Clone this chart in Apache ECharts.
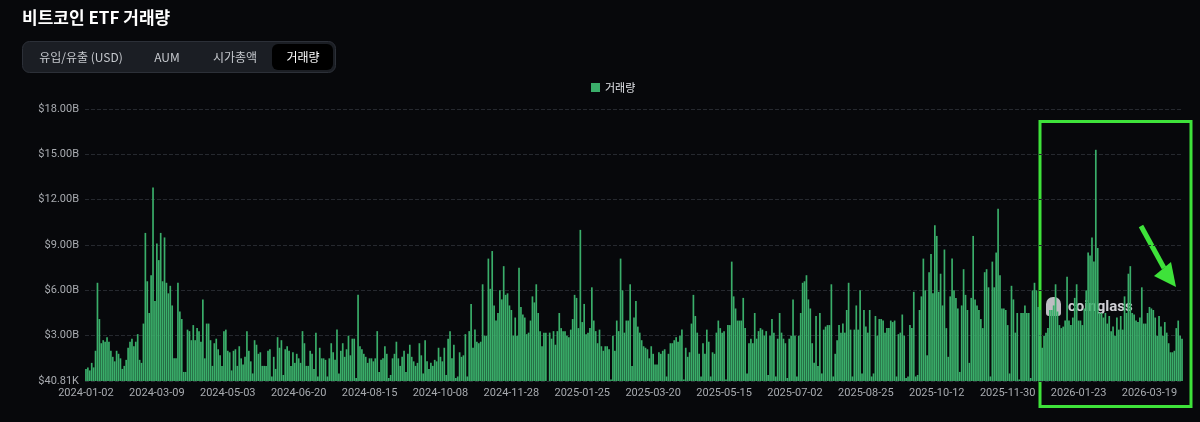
<!DOCTYPE html>
<html>
<head>
<meta charset="utf-8">
<script src="https://cdn.jsdelivr.net/npm/echarts@6/dist/echarts.min.js"></script>
<style>
  html, body { margin: 0; padding: 0; background: #07080b; }
  #chart { width: 1200px; height: 422px; }
</style>
</head>
<body>
<div id="chart"></div>
<script>
// x축 라벨 (37개 카테고리마다 하나)
const tickLabels = [
  '2024-01-02', '2024-03-09', '2024-05-03', '2024-06-20', '2024-08-15', '2024-10-08',
  '2024-11-28', '2025-01-25', '2025-03-20', '2025-05-15', '2025-07-02', '2025-08-25',
  '2025-10-12', '2025-11-30', '2026-01-23', '2026-03-19',
];
const labelStep = 37;

// 일별 거래량 (단위: 십억 달러)
const volB = [
  0.8, 0.9, 0.7, 1.2, 0.9, 2.0, 6.5, 4.1, 2.5, 2.7, 2.6, 2.9, 2.6, 2.0, 1.6, 1.3, 2.0, 1.8, 1.5, 0.8, 1.0, 1.4, 2.2, 2.6, 2.8, 2.3, 2.6, 3.1, 1.4, 1.2, 3.8, 9.8, 6.6, 4.5, 7.0, 12.8, 5.3,
  9.1, 8.0, 9.8, 6.6, 9.5, 6.5, 5.8, 6.3, 5.0, 1.5, 1.5, 6.5, 4.6, 4.1, 0.6, 0.6, 3.4, 3.3, 2.7, 3.7, 2.7, 3.5, 3.3, 2.6, 5.4, 1.5, 3.8, 3.8, 2.7, 1.0, 2.5, 2.8, 2.1, 1.7, 1.0, 3.3, 3.4,
  2.0, 1.9, 0.7, 2.0, 2.1, 1.0, 2.3, 1.5, 1.1, 1.6, 3.3, 2.0, 1.3, 0.5, 2.7, 2.4, 1.8, 1.9, 1.0, 1.0, 1.0, 2.0, 2.1, 0.3, 1.6, 0.8, 2.9, 2.2, 2.7, 0.4, 2.1, 2.3, 2.0, 1.0, 1.9, 1.2, 1.8,
  1.5, 1.2, 3.3, 2.5, 1.0, 1.0, 2.0, 1.8, 0.8, 3.2, 0.3, 2.2, 1.5, 1.5, 1.4, 0.3, 1.5, 2.5, 1.9, 1.4, 3.4, 0.5, 2.0, 2.5, 1.6, 2.1, 3.0, 1.7, 2.8, 2.8, 0.2, 5.7, 2.3, 2.1, 1.8, 1.6, 1.2,
  1.5, 1.5, 1.3, 1.5, 3.3, 0.6, 1.4, 1.5, 2.3, 1.8, 0.2, 0.4, 1.5, 1.8, 2.6, 1.5, 1.0, 1.6, 2.0, 0.6, 1.8, 2.4, 1.6, 1.3, 1.0, 1.2, 2.5, 1.7, 0.5, 2.7, 1.3, 0.8, 1.2, 1.0, 1.4, 1.3, 2.2,
  1.6, 1.3, 2.2, 0.4, 2.8, 3.3, 1.5, 2.4, 0.2, 0.3, 1.9, 1.6, 1.7, 3.1, 0.3, 3.3, 5.1, 2.2, 3.4, 2.6, 2.5, 2.6, 6.4, 3.0, 3.0, 8.1, 6.1, 8.6, 5.0, 4.0, 4.5, 6.0, 5.4, 7.6, 5.7, 5.8, 5.0,
  4.7, 3.0, 4.2, 3.0, 7.5, 4.9, 4.4, 4.2, 3.1, 3.2, 4.0, 5.6, 5.2, 6.4, 4.5, 3.3, 2.3, 3.2, 3.2, 0.00004081, 3.2, 2.8, 3.3, 2.4, 3.3, 4.5, 3.5, 3.3, 3.3, 3.0, 2.9, 3.4, 4.1, 5.7, 5.5, 3.5, 10.0,
  3.9, 5.1, 3.1, 3.2, 3.5, 6.2, 4.0, 3.3, 2.5, 3.4, 2.3, 2.0, 2.3, 2.3, 2.1, 0.1, 3.0, 2.0, 4.0, 3.3, 8.1, 6.0, 3.2, 4.0, 4.0, 6.4, 1.0, 4.2, 5.3, 3.6, 3.2, 2.7, 2.3, 2.2, 2.1, 1.5, 2.3,
  1.8, 1.1, 1.1, 1.9, 1.8, 2.0, 2.1, 0.3, 1.8, 2.5, 2.5, 2.7, 2.9, 2.6, 3.0, 3.4, 0.1, 2.2, 1.6, 1.9, 3.8, 5.7, 4.3, 3.2, 1.8, 0.3, 2.5, 1.8, 3.4, 2.6, 0.3, 1.9, 1.8, 3.2, 4.0, 3.5, 3.2,
  3.3, 0.1, 3.7, 3.7, 7.9, 5.6, 4.8, 4.0, 4.0, 4.0, 5.5, 3.5, 0.5, 2.5, 2.8, 2.5, 4.5, 2.8, 3.3, 3.5, 3.4, 3.0, 3.3, 0.4, 3.0, 4.1, 3.2, 0.3, 2.8, 4.5, 3.2, 2.8, 2.5, 0.2, 2.8, 3.0, 5.4,
  3.0, 0.3, 3.0, 4.5, 6.5, 6.6, 7.0, 5.4, 4.8, 2.5, 1.2, 4.3, 1.0, 4.5, 0.5, 3.4, 3.6, 3.7, 3.7, 6.4, 0.3, 1.8, 2.7, 3.7, 3.2, 3.8, 3.2, 4.7, 6.5, 3.4, 0.3, 3.4, 5.0, 3.4, 6.0, 0.5, 4.7,
  3.6, 3.2, 4.7, 0.3, 0.5, 4.3, 3.0, 4.1, 4.1, 4.0, 3.2, 3.5, 3.5, 4.0, 3.9, 4.0, 0.3, 3.1, 3.2, 4.4, 3.0, 0.2, 0.3, 3.7, 3.5, 5.9, 0.3, 0.4, 4.7, 5.6, 8.1, 6.0, 1.7, 7.2, 8.4, 5.8, 10.3,
  9.6, 5.9, 7.1, 5.0, 8.7, 3.5, 1.6, 5.6, 8.1, 6.0, 5.5, 4.8, 0.6, 5.0, 7.4, 5.7, 4.7, 1.2, 5.5, 9.6, 5.4, 5.0, 4.7, 4.1, 3.5, 7.2, 7.4, 6.2, 0.3, 7.9, 6.2, 8.5, 11.4, 7.0, 4.8, 4.8, 4.7,
  3.7, 0.5, 6.3, 5.4, 3.2, 4.5, 0.1, 4.5, 4.5, 5.0, 4.5, 4.5, 0.2, 6.0, 6.5, 6.0, 4.9, 4.7, 2.2, 3.0, 3.2, 3.5, 4.7, 4.7, 5.0, 6.4, 4.6, 3.7, 3.5, 3.6, 4.0, 6.9, 4.0, 3.7, 4.2, 5.5, 6.4,
  4.0, 4.0, 3.7, 4.8, 6.0, 8.5, 8.3, 9.5, 7.9, 15.3, 8.8, 4.5, 4.5, 4.2, 4.5, 3.8, 4.3, 3.3, 3.6, 3.0, 4.2, 3.4, 4.3, 3.4, 5.6, 4.5, 7.1, 7.6, 4.5, 4.4, 4.0, 3.9, 4.2, 6.2, 3.8, 3.8, 4.5,
  4.9, 4.8, 4.7, 4.2, 3.0, 4.3, 3.6, 3.0, 3.9, 3.2, 2.5, 1.9, 1.9, 2.0, 3.5, 4.0, 3.0, 2.8,
];

const categories = volB.map((_, i) => String(i));
const seriesData = volB.map((v) => Math.round(v * 1e9));

const fmtUsd = (v) => {
  if (v >= 1e9) return '$' + (v / 1e9).toFixed(2) + 'B';
  if (v >= 1e6) return '$' + (v / 1e6).toFixed(2) + 'M';
  return '$' + (v / 1e3).toFixed(2) + 'K';
};

const FONT = '"Noto Sans CJK KR", "Noto Sans", sans-serif';
const NUM_FONT = 'Roboto, "Noto Sans", sans-serif';
const HL = '#3ee23a';

const tabs = [
  { text: '유입/유출 (USD)', x: 81 },
  { text: 'AUM', x: 167 },
  { text: '시가총액', x: 235 },
  { text: '거래량', x: 303, active: true },
];

const chart = echarts.init(document.getElementById('chart'));

chart.setOption({
  backgroundColor: '#07080b',
  animation: false,
  textStyle: { fontFamily: FONT },
  legend: {
    top: 77,
    left: 586,
    icon: 'rect',
    itemWidth: 9,
    itemHeight: 9,
    itemGap: 6,
    textStyle: { color: '#e2e4e8', fontSize: 11, fontFamily: FONT },
    data: ['거래량'],
  },
  grid: { left: 85, right: 17, top: 109, bottom: 41 },
  xAxis: {
    type: 'category',
    data: categories,
    axisLine: { show: false },
    axisTick: { show: false },
    axisLabel: {
      interval: labelStep - 1,
      color: '#a8abb0',
      fontSize: 11,
      fontFamily: NUM_FONT,
      margin: 7,
      formatter: (v, idx) => tickLabels[idx / labelStep] || '',
    },
  },
  yAxis: {
    type: 'value',
    min: 'dataMin',
    max: (e) => e.min + 18e9,
    interval: 3e9,
    axisLine: { show: false },
    axisTick: { show: false },
    splitLine: { lineStyle: { type: 'dashed', color: '#26292f' } },
    axisLabel: {
      color: '#a8abb0',
      fontSize: 11,
      fontFamily: NUM_FONT,
      margin: 6,
      formatter: fmtUsd,
    },
  },
  series: [
    {
      name: '거래량',
      type: 'bar',
      data: seriesData,
      barCategoryGap: '12%',
      itemStyle: { color: '#3aae6a' },
    },
  ],
  graphic: [
    // 제목
    {
      type: 'text',
      left: 22,
      top: 9,
      style: { text: '비트코인 ETF 거래량', fill: '#ffffff', font: 'bold 17px ' + FONT },
    },
    // 탭 바
    {
      type: 'rect',
      shape: { x: 22.5, y: 41.5, width: 313, height: 31, r: 7 },
      style: { fill: '#1b1e24', stroke: '#2c3038', lineWidth: 1 },
    },
    {
      type: 'rect',
      shape: { x: 272, y: 44, width: 61, height: 26, r: 6 },
      style: { fill: '#000000' },
    },
    ...tabs.map((t) => ({
      type: 'text',
      x: t.x,
      y: 57,
      style: {
        text: t.text,
        fill: t.active ? '#ffffff' : '#c6c9ce',
        font: '12px ' + FONT,
        align: 'center',
        verticalAlign: 'middle',
      },
    })),
    // 워터마크
    {
      type: 'rect',
      shape: { x: 1046, y: 297, width: 15, height: 19, r: [7, 7, 3, 3] },
      style: { fill: 'rgba(210,210,214,0.9)' },
    },
    {
      type: 'text',
      x: 1068,
      y: 307,
      style: {
        text: 'coinglass',
        fill: 'rgba(225,225,230,0.92)',
        font: 'bold 15px ' + NUM_FONT,
        verticalAlign: 'middle',
      },
    },
    // 강조 박스와 화살표
    {
      type: 'rect',
      shape: { x: 1040, y: 121.5, width: 151, height: 285 },
      style: { fill: 'none', stroke: HL, lineWidth: 3 },
    },
    {
      type: 'line',
      shape: { x1: 1141, y1: 226, x2: 1164, y2: 268 },
      style: { stroke: HL, lineWidth: 5 },
    },
    {
      type: 'polygon',
      shape: { points: [[1154, 276], [1171, 262], [1176, 287]] },
      style: { fill: HL },
    },
  ],
});
</script>
</body>
</html>
